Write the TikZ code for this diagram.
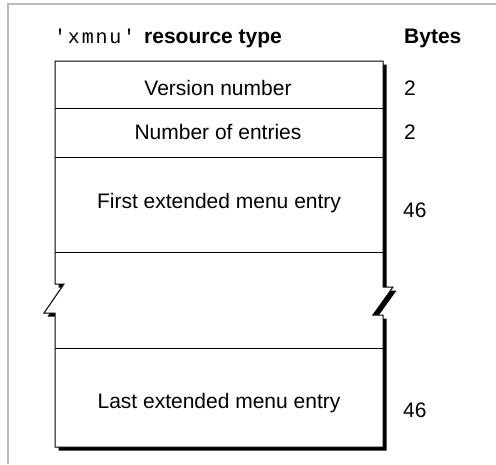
\documentclass[tikz,border=0pt]{standalone}
\usepackage{fontspec}
\setmainfont{Liberation Sans}
\newfontfamily\codefont[LetterSpace=9]{Liberation Mono}
\begin{document}
\begin{tikzpicture}[x=1pt,y=-1pt,
  lbl/.style={inner sep=0pt,anchor=base,font=\fontsize{21}{24}\selectfont},
  num/.style={inner sep=0pt,anchor=base west,font=\fontsize{21}{24}\selectfont},
  hdr/.style={inner sep=0pt,anchor=base west,font=\fontsize{21}{24}\selectfont\bfseries},
  rule/.style={line width=1pt}]
\useasboundingbox (0,0) rectangle (496,464);
% light grey page frame (top and left edges only)
\draw[line width=1.6pt,color=black!27] (8,464) -- (8,4) -- (496,4);
% record outline with break marks on both sides
\def\outline{(55,61) -- (383,61) -- (383,287) -- (393,287) -- (373,315) -- (383,315)
  -- (383,447) -- (55,447) -- (55,313) -- (44,313) -- (64,284) -- (55,284) -- cycle}
\fill[black,shift={(3.5,3.5)}] \outline;
\filldraw[rule,fill=white,draw=black,line join=miter] \outline;
% field separators
\coordinate (l1) at (55,108);  \coordinate (r1) at (383,108);
\coordinate (l2) at (55,157);  \coordinate (r2) at (383,157);
\coordinate (l3) at (55,252);  \coordinate (r3) at (383,252);
\coordinate (l4) at (55,348);  \coordinate (r4) at (383,348);
\draw[rule] (l1) -- (r1);
\draw[rule] (l2) -- (r2);
\draw[rule] (l3) -- (r3);
\draw[rule] (l4) -- (r4);
% heading
\node[inner sep=0pt,anchor=base west,font=\fontsize{20}{24}\codefont] (ttype) at (54,43) {\char"27 xmnu\char"27};
\node[hdr] (tres) at (144,43) {resource type};
\node[hdr] (tbytes) at (404,43) {Bytes};
% field names
\node[lbl] (f1) at (218,95) {Version number};
\node[lbl] (f2) at (218,139) {Number of entries};
\node[lbl] (f3) at (219,208) {First extended menu entry};
\node[lbl] (f4) at (219,408) {Last extended menu entry};
% sizes
\node[num] (b1) at (404,95) {2};
\node[num] (b2) at (404,139) {2};
\node[num] (b3) at (403,217) {46};
\node[num] (b4) at (403,417) {46};
\end{tikzpicture}
\end{document}
